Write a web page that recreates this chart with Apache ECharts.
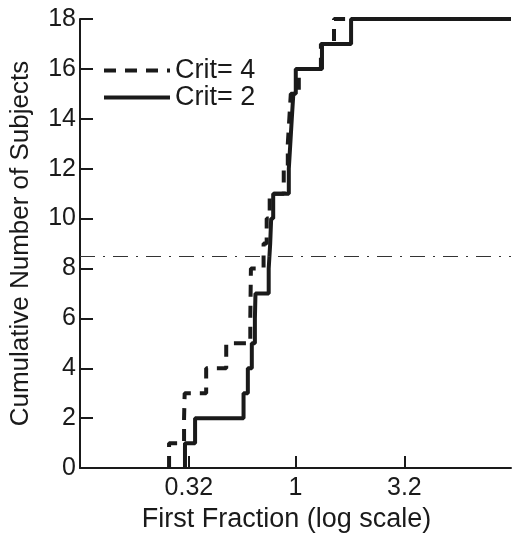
<!DOCTYPE html>
<html>
<head>
<meta charset="utf-8">
<script src="https://cdn.jsdelivr.net/npm/echarts@6/dist/echarts.min.js"></script>
<style>
  html, body { margin: 0; padding: 0; background: #fff; }
  #chart { width: 512px; height: 538px; }
</style>
</head>
<body>
<div id="chart"></div>
<script>
// first-fraction values, sorted; one subject per step
const crit4Values = [0.259, 0.304, 0.306, 0.385, 0.477, 0.617, 0.619, 0.621, 0.711,
  0.735, 0.759, 0.882, 0.921, 0.936, 0.951, 1.036, 1.312, 1.509];
const crit2Values = [0.307, 0.342, 0.574, 0.601, 0.627, 0.648, 0.652, 0.751, 0.763,
  0.771, 0.788, 0.931, 0.946, 0.961, 0.977, 1.003, 1.327, 1.811];
const seriesNames = ['Crit= 4', 'Crit= 2'];
const xTickValues = [0.32, 1, 3.2];
const halfLine = 8.5;
const xMin = 0.1;
const xMax = 10;

// cumulative step points: start at 0, one step per subject, then run to the right edge
function cumulative(values) {
  const pts = [[values[0], 0]];
  values.forEach((v, i) => pts.push([v, i + 1]));
  pts.push([xMax, values.length]);
  return pts;
}

const font = 'Liberation Sans, Arial, Helvetica, sans-serif';
const ink = '#1a1a1a';

const myChart = echarts.init(document.getElementById('chart'));
const options = {
  animation: false,
  backgroundColor: '#fff',
  textStyle: { fontFamily: font, color: ink },
  grid: { left: 80, right: 1, top: 19, bottom: 68 },
  legend: {
    left: 97,
    top: 52,
    orient: 'vertical',
    itemWidth: 66,
    itemHeight: 14,
    itemGap: 0,
    data: seriesNames,
    itemStyle: { opacity: 0 },
    lineStyle: { width: 4 },
    textStyle: { fontSize: 27, fontFamily: font, color: ink, lineHeight: 26 },
  },
  xAxis: {
    type: 'log',
    logBase: 10,
    min: xMin,
    max: xMax,
    name: 'First Fraction (log scale)',
    nameLocation: 'middle',
    nameGap: 35,
    nameTextStyle: { fontSize: 27, fontFamily: font, color: ink, padding: [0, 18, 0, 0] },
    axisLine: { lineStyle: { color: ink, width: 2 } },
    axisTick: { inside: true, length: 12, customValues: xTickValues, lineStyle: { width: 2, color: ink } },
    axisLabel: {
      customValues: xTickValues,
      fontSize: 25,
      color: ink,
      margin: 8,
      formatter: (v) => String(+(+v).toPrecision(2)),
    },
    minorTick: { show: false },
    splitLine: { show: false },
  },
  yAxis: {
    type: 'value',
    min: 0,
    max: 18,
    interval: 2,
    name: 'Cumulative Number of Subjects',
    nameLocation: 'middle',
    nameGap: 46,
    nameTextStyle: { fontSize: 26, fontFamily: font, color: ink },
    axisLine: { show: true, lineStyle: { color: ink, width: 2 } },
    axisTick: { show: true, inside: true, length: 13, lineStyle: { width: 2, color: ink } },
    axisLabel: { fontSize: 25, color: ink, margin: 4 },
    splitLine: { show: false },
  },
  series: [
    {
      name: seriesNames[0],
      type: 'line',
      step: 'end',
      symbol: 'none',
      data: cumulative(crit4Values),
      lineStyle: { color: ink, width: 4, type: [12, 9], cap: 'butt' },
      itemStyle: { color: ink },
      z: 3,
      markLine: {
        silent: true,
        symbol: 'none',
        label: { show: false },
        lineStyle: { color: '#333', width: 1, type: [15, 8, 2, 8] },
        data: [{ yAxis: halfLine }],
      },
    },
    {
      name: seriesNames[1],
      type: 'line',
      step: 'end',
      symbol: 'none',
      data: cumulative(crit2Values),
      lineStyle: { color: ink, width: 4, type: 'solid' },
      itemStyle: { color: ink },
      z: 2,
    },
  ],
};
myChart.setOption(options);
</script>
</body>
</html>
